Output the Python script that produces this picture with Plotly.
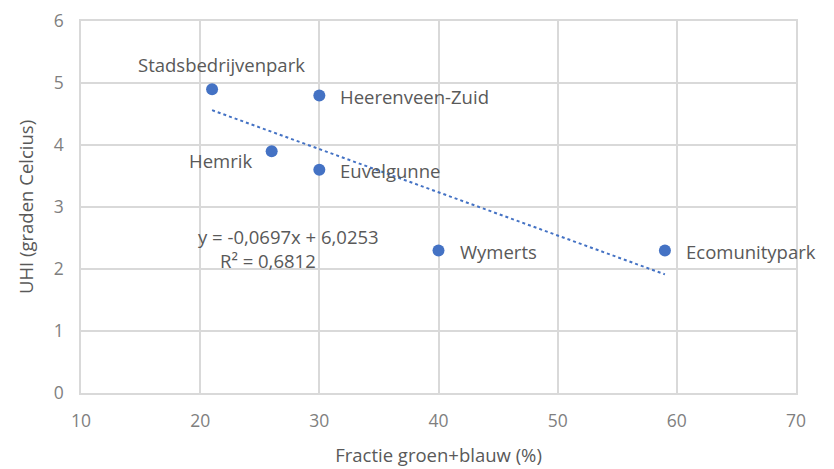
import plotly.graph_objects as go

names = ["Stadsbedrijvenpark", "Heerenveen-Zuid", "Hemrik", "Euvelgunne", "Wymerts", "Ecomunitypark"]
fractie = [21, 30, 26, 30, 40, 59]
uhi = [4.9, 4.8, 3.9, 3.6, 2.3, 2.3]
slope = -0.0697
intercept = 6.0253
r2_text = "R² = 0,6812"
eq_text = "y = -0,0697x + 6,0253"
x_ticks = [10, 20, 30, 40, 50, 60, 70]
y_ticks = [0, 1, 2, 3, 4, 5, 6]

blue = "#4472C4"
font_fam = "'Open Sans', sans-serif"
text_col = "#595959"
tick_col = "#7f7f7f"
fs = 18.5
tfs = 17.5

fig = go.Figure()
tx = [min(fractie), max(fractie)]
ty = [slope * v + intercept for v in tx]
fig.add_trace(go.Scatter(x=tx, y=ty, mode="lines",
                         line=dict(color=blue, width=2, dash="dot"),
                         hoverinfo="skip", showlegend=False))
fig.add_trace(go.Scatter(x=fractie, y=uhi, mode="markers",
                         marker=dict(color=blue, size=12),
                         showlegend=False))

offsets = {
    "Stadsbedrijvenpark": dict(xshift=9, yshift=25, xanchor="center"),
    "Heerenveen-Zuid": dict(xshift=19, yshift=-1, xanchor="left"),
    "Hemrik": dict(xshift=-18, yshift=-9, xanchor="right"),
    "Euvelgunne": dict(xshift=19, yshift=-1, xanchor="left"),
    "Wymerts": dict(xshift=19, yshift=-1, xanchor="left"),
    "Ecomunitypark": dict(xshift=19, yshift=-1, xanchor="left"),
}
for n, x, y in zip(names, fractie, uhi):
    o = offsets[n]
    fig.add_annotation(x=x, y=y, text=n, showarrow=False,
                       xanchor=o["xanchor"], yanchor="middle",
                       xshift=o["xshift"], yshift=o["yshift"],
                       font=dict(size=fs, color=text_col, family=font_fam))

fig.add_annotation(x=27.45, y=2.53, text=eq_text, showarrow=False,
                   font=dict(size=fs, color=text_col, family=font_fam))
fig.add_annotation(x=25.7, y=2.13, text=r2_text, showarrow=False,
                   font=dict(size=fs, color=text_col, family=font_fam))

grid = "#d9d9d9"
fig.update_layout(
    width=834, height=469,
    margin=dict(l=73, r=46, t=13, b=84),
    paper_bgcolor="white", plot_bgcolor="white",
    font=dict(family=font_fam, color=tick_col, size=tfs),
    xaxis=dict(range=[10, 70], tickvals=x_ticks, showgrid=True, gridcolor=grid,
               gridwidth=1.5, showline=True, linecolor=grid, linewidth=1.5, mirror=True,
               zeroline=False, ticks="outside", ticklen=11, tickcolor="rgba(0,0,0,0)",
               automargin=False, ticklabeloverflow="allow",
               tickfont=dict(size=tfs, color=tick_col),
               title=dict(text="Fractie groen+blauw (%)", standoff=18,
                          font=dict(size=fs, color=text_col))),
    yaxis=dict(range=[0, 6], tickvals=y_ticks, showgrid=True, gridcolor=grid,
               gridwidth=1.5, showline=True, linecolor=grid, linewidth=1.5, mirror=True,
               zeroline=False, ticks="outside", ticklen=12, tickcolor="rgba(0,0,0,0)",
               automargin=False, ticklabeloverflow="allow",
               tickfont=dict(size=tfs, color=tick_col),
               title=dict(text="UHI (graden Celcius)", standoff=15,
                          font=dict(size=fs, color=text_col))),
)

fig.write_html("out.html")
